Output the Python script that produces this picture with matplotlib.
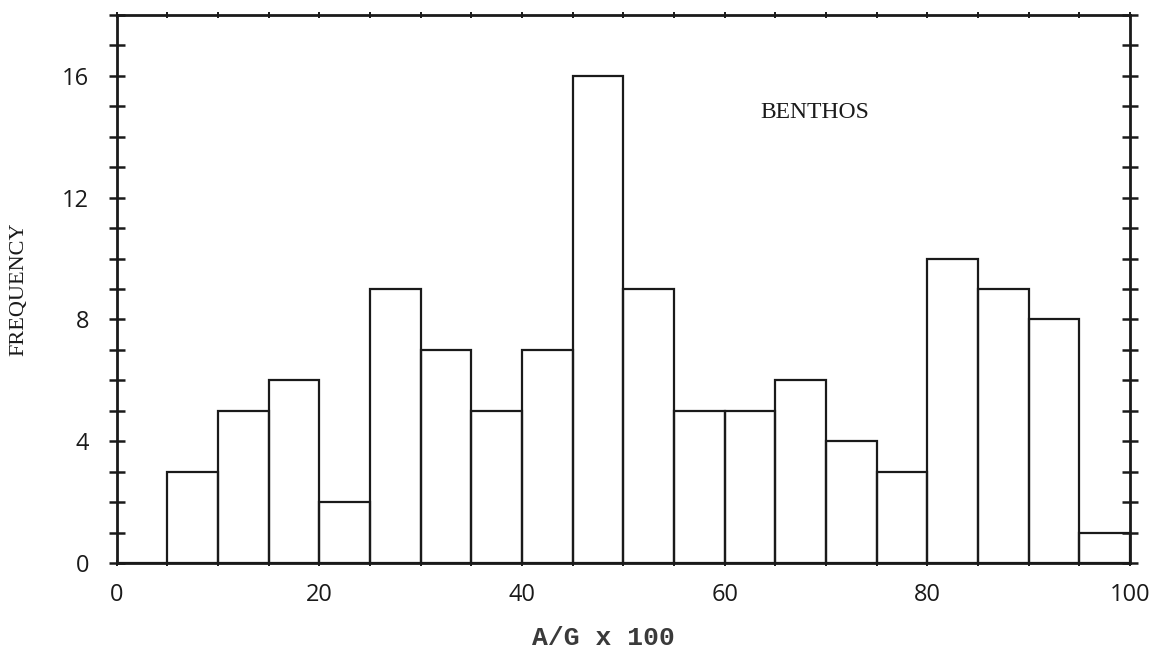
import numpy as np
import matplotlib
matplotlib.use("Agg")
import matplotlib.pyplot as plt
from matplotlib.ticker import MultipleLocator

# A/G x 100 class edges and counts per class
bin_edges = [0, 5, 10, 15, 20, 25, 30, 35, 40, 45, 50,
             55, 60, 65, 70, 75, 80, 85, 90, 95, 100]
counts = [0, 3, 5, 6, 2, 9, 7, 5, 7, 16,
          9, 5, 5, 6, 4, 3, 10, 9, 8, 1]
x_ticks = [0, 20, 40, 60, 80, 100]
y_ticks = [0, 4, 8, 12, 16]
panel_label = "BENTHOS"

ink = "#1a1a1a"

fig = plt.figure(figsize=(11.56, 6.48), dpi=100)
ax = fig.add_axes([0.101, 0.131, 0.8765, 0.846])

ax.bar(bin_edges[:-1], counts, width=5, align="edge",
       fill=False, edgecolor=ink, linewidth=1.6)

ax.set_xlim(0, 100)
ax.set_ylim(0, 18)

for s in ax.spines.values():
    s.set_linewidth(2.0)
    s.set_color(ink)

ax.set_xticks(x_ticks)
ax.set_yticks(y_ticks)
ax.yaxis.set_minor_locator(MultipleLocator(1))
ax.xaxis.set_minor_locator(MultipleLocator(5))

ax.tick_params(axis="y", which="both", direction="inout", length=12, width=1.8,
               left=True, right=True, color=ink, pad=14)
ax.tick_params(axis="x", which="both", direction="inout", length=5, width=1.4,
               top=True, bottom=True, color=ink, pad=12)

tick_font = {"family": "Open Sans", "size": 17}
ax.set_xticklabels([str(v) for v in x_ticks], fontdict=tick_font, color=ink)
ax.set_yticklabels([str(v) for v in y_ticks], fontdict=tick_font, color=ink)

ax.set_xlabel("A/G x 100", family="Liberation Mono", fontsize=19,
              fontweight="bold", color="#3a3a3a")
ax.xaxis.set_label_coords(0.48, -0.115)
ax.set_ylabel("FREQUENCY", family="Liberation Serif", fontsize=16,
              color=ink, labelpad=24)

ax.text(68.9, 14.8, panel_label, family="Liberation Serif", fontsize=17,
        color=ink, ha="center", va="center")

fig.savefig("out.png", dpi=100, facecolor="white")
